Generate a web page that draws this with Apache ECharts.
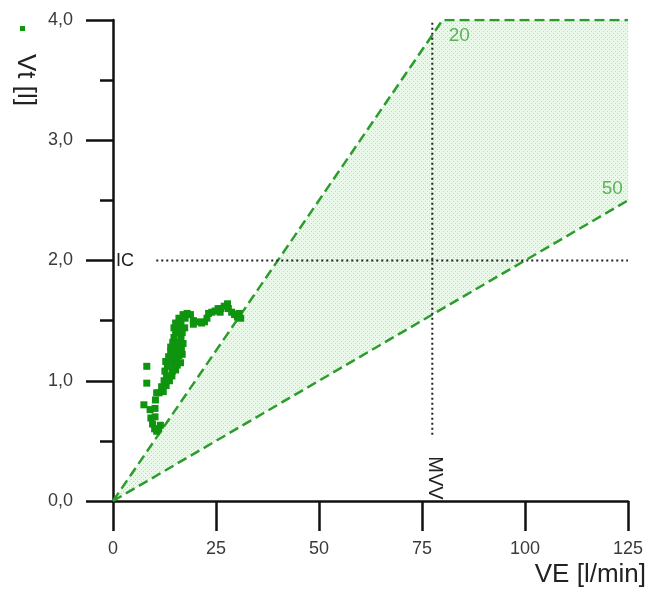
<!DOCTYPE html>
<html>
<head>
<meta charset="utf-8">
<script src="https://cdn.jsdelivr.net/npm/echarts@6/dist/echarts.min.js"></script>
<style>html,body{margin:0;padding:0;background:#fff;}#c{width:648px;height:596px;}</style>
</head>
<body>
<div id="c"></div>
<script>
// ---- data ----
var xTickLabels = ['0', '25', '50', '75', '100', '125'];
var yTickLabels = ['0,0', '1,0', '2,0', '3,0', '4,0'];
var line20 = [[0, 0], [80, 4], [125, 4]];
var line50 = [[0, 0], [125, 2.5]];
var fillPolygon = [[0, 0], [80, 4], [125, 4], [125, 2.5]];
var icLine = [[10.5, 2.0], [125, 2.0]];
var mvvLine = [[77.5, 0.55], [77.5, 4.0]];
var lineLabels = [[81.5, 3.87, '20'], [118.6, 2.6, '50']];
var measured = [
  [8.2, 1.12], [8.2, 0.98], [7.5, 0.80],
  [9.0, 0.76], [9.2, 0.69], [9.6, 0.64], [10.1, 0.60], [10.6, 0.58], [11.1, 0.60], [11.5, 0.63],
  [10.2, 0.70], [10.2, 0.77], [10.3, 0.84], [10.6, 0.90],
  [11.2, 0.90], [12.2, 0.91], [11.8, 0.95], [12.9, 0.96], [12.4, 1.00], [13.7, 1.00],
  [13.0, 1.04], [14.3, 1.04], [12.6, 1.08], [14.4, 1.08], [15.2, 1.09],
  [13.2, 1.12], [14.8, 1.12], [15.6, 1.13], [12.8, 1.16], [14.2, 1.16], [15.5, 1.17], [16.4, 1.15],
  [13.5, 1.20], [15.0, 1.20], [16.0, 1.21], [16.8, 1.22], [14.0, 1.24], [15.5, 1.24], [16.6, 1.26],
  [14.0, 1.28], [15.2, 1.28], [16.2, 1.28], [14.5, 1.32], [16.0, 1.32], [17.0, 1.31],
  [14.8, 1.36], [16.5, 1.36], [15.2, 1.40], [16.8, 1.40], [14.8, 1.44], [16.0, 1.44], [17.4, 1.44],
  [15.2, 1.48], [16.5, 1.48], [16.0, 1.52], [17.5, 1.52], [17.0, 1.55], [18.0, 1.56], [18.8, 1.55],
  [19.5, 1.50], [19.5, 1.47], [20.5, 1.49], [21.5, 1.48], [22.2, 1.49], [22.8, 1.52],
  [23.2, 1.56], [24.0, 1.57], [24.8, 1.58], [25.5, 1.60], [26.2, 1.60], [26.0, 1.57],
  [27.0, 1.62], [27.8, 1.64], [28.0, 1.60], [28.8, 1.57], [29.5, 1.55], [30.2, 1.53], [31.0, 1.52], [30.6, 1.56]
];

// dotted light-green pattern for the shaded band
var pat = document.createElement('canvas');
pat.width = 4; pat.height = 4;
var pc = pat.getContext('2d');
pc.fillStyle = '#e9f8e9'; pc.fillRect(0, 0, 4, 4);
pc.fillStyle = '#b2e2b2'; pc.fillRect(1, 1, 1, 1); pc.fillRect(3, 3, 1, 1);

var green = '#2c9c2c';
var font = '"Liberation Sans", Arial, sans-serif';
var chart = echarts.init(document.getElementById('c'));
chart.setOption({
  animation: false,
  grid: { left: 113, right: 20, top: 20, bottom: 95 },
  xAxis: {
    type: 'value', min: 0, max: 125, interval: 25,
    axisLine: { onZero: false, lineStyle: { color: '#111', width: 2.5 } },
    axisTick: { length: 30, lineStyle: { color: '#111', width: 2.5 } },
    splitLine: { show: false },
    axisLabel: { margin: 39, fontSize: 18, color: '#3a3a3a', fontFamily: font,
      formatter: function (v) { return xTickLabels[Math.round(v / 25)]; } }
  },
  yAxis: {
    type: 'value', min: 0, max: 4, interval: 1,
    axisLine: { show: true, onZero: false, lineStyle: { color: '#111', width: 2.5 } },
    axisTick: { show: true, length: 27, lineStyle: { color: '#111', width: 2.5 } },
    minorTick: { show: true, splitNumber: 2, length: 13, lineStyle: { color: '#111', width: 2.5 } },
    splitLine: { show: false },
    axisLabel: { margin: 40, fontSize: 18, color: '#3a3a3a', fontFamily: font,
      formatter: function (v) { return yTickLabels[Math.round(v)]; } }
  },
  series: [
    {
      type: 'custom', clip: false, z: 1,
      data: fillPolygon,
      renderItem: function (params, api) {
        if (params.dataIndex !== 0) return null;
        return {
          type: 'polygon',
          shape: { points: fillPolygon.map(function (p) { return api.coord(p); }) },
          style: { fill: { image: pat, repeat: 'repeat' } }
        };
      }
    },
    { type: 'line', data: line20, symbol: 'none', z: 3,
      lineStyle: { color: green, width: 2.5, type: [10, 5] } },
    { type: 'line', data: line50, symbol: 'none', z: 3,
      lineStyle: { color: green, width: 2.5, type: [10, 5] } },
    { type: 'line', data: icLine, symbol: 'none', z: 3,
      lineStyle: { color: '#222', width: 2, type: [2, 3] } },
    { type: 'line', data: mvvLine, symbol: 'none', z: 3,
      lineStyle: { color: '#222', width: 2, type: [2, 3] } },
    { type: 'scatter', data: lineLabels, symbolSize: 0, z: 4,
      label: { show: true, position: 'inside', align: 'left', verticalAlign: 'middle',
        color: '#3aa33a', fontSize: 19, fontFamily: font,
        formatter: function (p) { return p.data[2]; } } },
    { type: 'scatter', data: measured, symbol: 'rect', symbolSize: 7, z: 5,
      itemStyle: { color: '#0e940e', opacity: 1 } }
  ],
  graphic: [
    { type: 'rect', left: 20, top: 26, shape: { width: 5, height: 5 }, style: { fill: '#129512' } },
    { type: 'text', x: 25, y: 80, rotation: -Math.PI / 2,
      style: { text: 'Vt [l]', fontSize: 26, fontFamily: font, fill: '#222', align: 'center', verticalAlign: 'middle' } },
    { type: 'text', right: 2, top: 562,
      style: { text: 'VE [l/min]', fontSize: 26, fontFamily: font, fill: '#222' } },
    { type: 'text', left: 116, top: 252,
      style: { text: 'IC', fontSize: 18, fontFamily: font, fill: '#222' } },
    { type: 'text', x: 435, y: 478, rotation: -Math.PI / 2,
      style: { text: 'MVV', fontSize: 20, fontFamily: font, fill: '#222', align: 'center', verticalAlign: 'middle' } }
  ]
});
</script>
</body>
</html>
